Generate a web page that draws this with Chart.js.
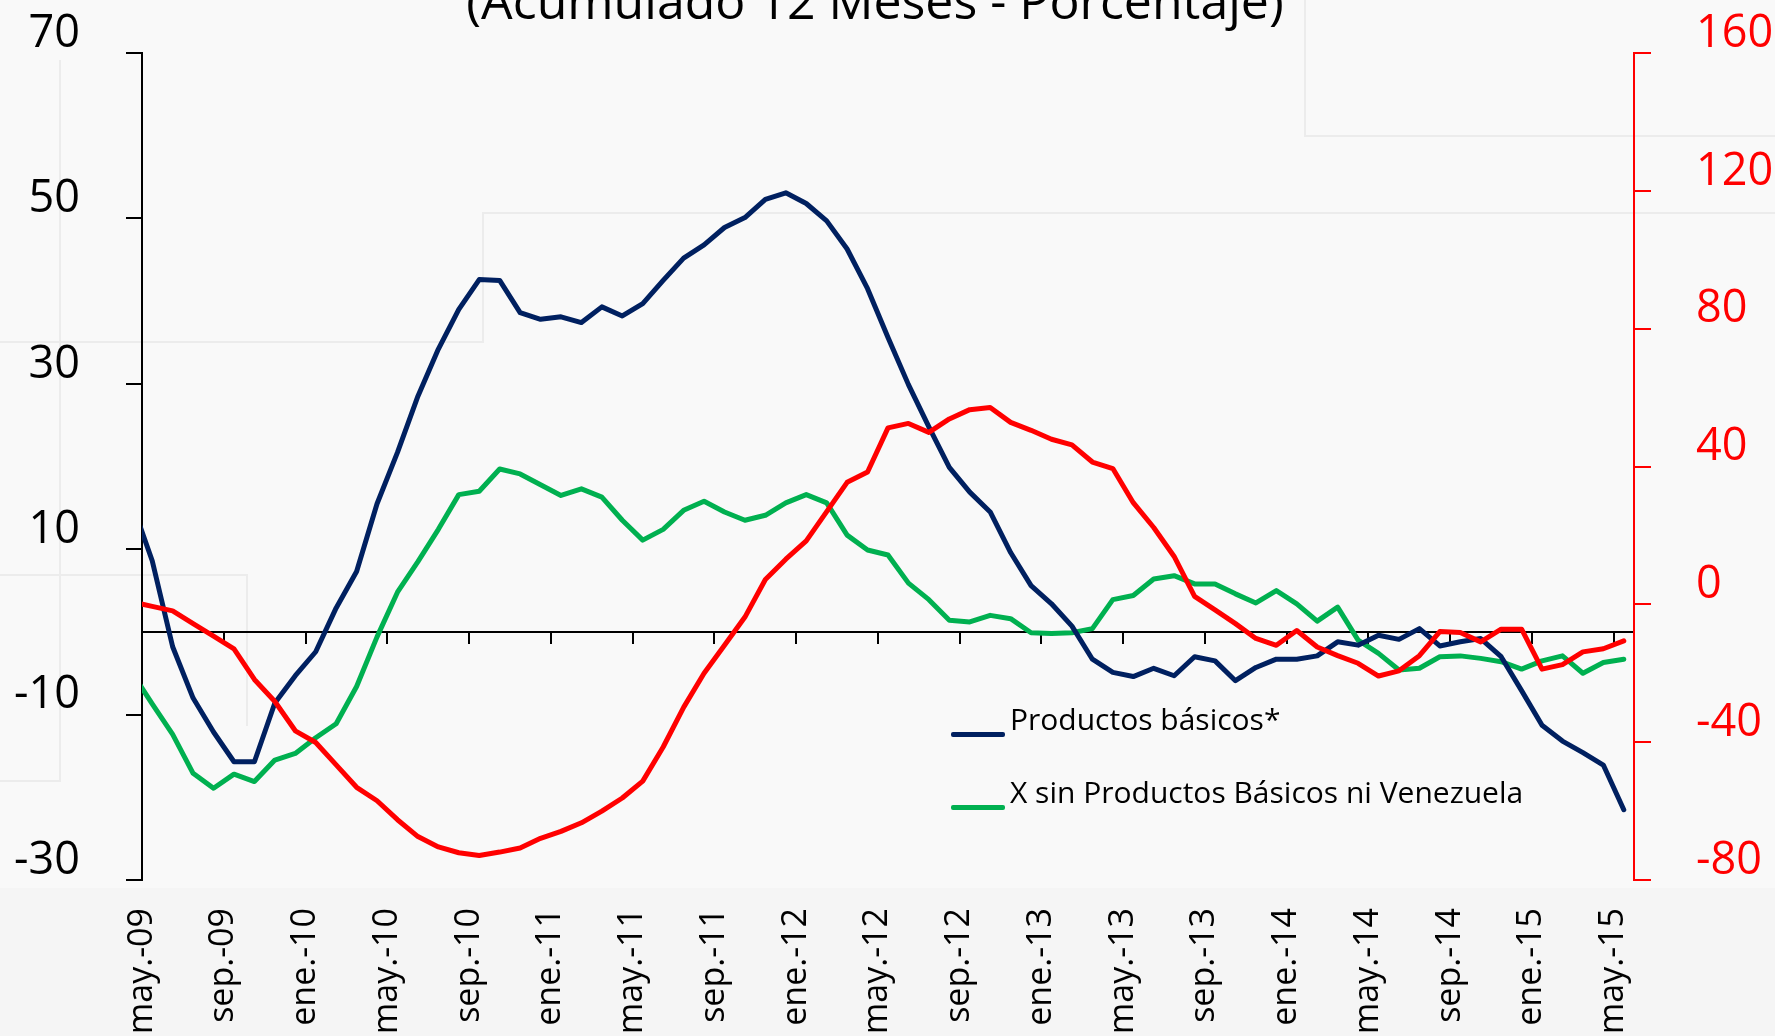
<!DOCTYPE html>
<html>
<head>
<meta charset="utf-8">
<title>Exportaciones</title>
<script src="https://cdn.jsdelivr.net/npm/chart.js@4.4.1/dist/chart.umd.min.js"></script>
<style>
  html, body { margin: 0; padding: 0; background: #f9f9f9; overflow: hidden; }
  #wrap { position: relative; width: 1775px; height: 1036px; }
  #chart { position: absolute; left: 0; top: 0; }
  .ghost { position: absolute; background: #ececec; }
  #bottomBand { position: absolute; left: 0; top: 888px; width: 1775px; height: 148px; background: #f5f5f5; }
  #title {
    position: absolute; left: 0; top: -25px; width: 1750px;
    text-align: center; white-space: nowrap;
    font-family: "Open Sans", sans-serif; font-size: 50px; line-height: 50px; color: #000;
  }
  .legend-item {
    position: absolute; left: 951px; height: 30px;
    font-family: "Open Sans", sans-serif; font-size: 30px; line-height: 30px; color: #000;
    white-space: nowrap;
  }
  .legend-item .swatch {
    position: absolute; left: 0; width: 54px; height: 5px; border-radius: 2px;
  }
  .legend-item .text { position: absolute; left: 59px; top: 0; }
</style>
</head>
<body>
<div id="wrap">
  <!-- faint outlines of the slide behind the chart -->
  <div id="bottomBand"></div>
  <div class="ghost" style="left:0;top:341px;width:484px;height:2px"></div>
  <div class="ghost" style="left:482px;top:212px;width:2px;height:131px"></div>
  <div class="ghost" style="left:482px;top:212px;width:1293px;height:2px"></div>
  <div class="ghost" style="left:1304px;top:0;width:2px;height:137px"></div>
  <div class="ghost" style="left:1304px;top:135px;width:471px;height:2px"></div>
  <div class="ghost" style="left:59px;top:60px;width:2px;height:722px"></div>
  <div class="ghost" style="left:0;top:780px;width:61px;height:2px"></div>
  <div class="ghost" style="left:0;top:574px;width:248px;height:2px"></div>
  <div class="ghost" style="left:246px;top:574px;width:2px;height:152px"></div>
  <canvas id="chart" width="1775" height="1036"></canvas>
  <div id="title">(Acumulado 12 Meses - Porcentaje)</div>
  <div id="legend"></div>
</div>
<script>
// months, abr.-09 to may.-15 (first one sits just left of the axis)
const months = [
  "abr.-09", "may.-09", "jun.-09", "jul.-09", "ago.-09", "sep.-09", "oct.-09", "nov.-09", "dic.-09",
  "ene.-10", "feb.-10", "mar.-10", "abr.-10", "may.-10", "jun.-10", "jul.-10", "ago.-10", "sep.-10", "oct.-10", "nov.-10", "dic.-10",
  "ene.-11", "feb.-11", "mar.-11", "abr.-11", "may.-11", "jun.-11", "jul.-11", "ago.-11", "sep.-11", "oct.-11", "nov.-11", "dic.-11",
  "ene.-12", "feb.-12", "mar.-12", "abr.-12", "may.-12", "jun.-12", "jul.-12", "ago.-12", "sep.-12", "oct.-12", "nov.-12", "dic.-12",
  "ene.-13", "feb.-13", "mar.-13", "abr.-13", "may.-13", "jun.-13", "jul.-13", "ago.-13", "sep.-13", "oct.-13", "nov.-13", "dic.-13",
  "ene.-14", "feb.-14", "mar.-14", "abr.-14", "may.-14", "jun.-14", "jul.-14", "ago.-14", "sep.-14", "oct.-14", "nov.-14", "dic.-14",
  "ene.-15", "feb.-15", "mar.-15", "abr.-15", "may.-15"
];

const tickLabels = [
  "may.-09", "sep.-09", "ene.-10", "may.-10", "sep.-10", "ene.-11", "may.-11",
  "sep.-11", "ene.-12", "may.-12", "sep.-12", "ene.-13", "may.-13", "sep.-13",
  "ene.-14", "may.-14", "sep.-14", "ene.-15", "may.-15"
];

// Productos básicos* (left axis)
const basicos = [
  15.6, 8.6, -1.8, -8.0, -12.1, -15.7, -15.7, -8.6, -5.3, -2.4, 2.9, 7.3, 15.5, 21.7,
  28.5, 34.2, 39.0, 42.6, 42.5, 38.6, 37.8, 38.1, 37.4, 39.3, 38.2, 39.7, 42.5, 45.2,
  46.8, 48.9, 50.1, 52.3, 53.1, 51.8, 49.7, 46.3, 41.5, 35.6, 29.9, 24.8, 19.9, 16.9,
  14.5, 9.6, 5.6, 3.4, 0.7, -3.3, -4.9, -5.4, -4.4, -5.3, -3.0, -3.5, -5.9, -4.3,
  -3.3, -3.3, -2.9, -1.2, -1.6, -0.4, -0.9, 0.4, -1.7, -1.2, -0.8, -3.0, -7.1, -11.3,
  -13.2, -14.6, -16.1, -21.5
];

// X sin Productos Básicos ni Venezuela (left axis)
const sinBasicos = [
  -4.9, -8.7, -12.4, -17.1, -18.9, -17.2, -18.1, -15.5, -14.7, -12.8, -11.1, -6.6, -0.6, 4.8,
  8.5, 12.4, 16.6, 17.0, 19.7, 19.1, 17.8, 16.5, 17.3, 16.3, 13.5, 11.1, 12.4, 14.7,
  15.8, 14.5, 13.5, 14.1, 15.6, 16.6, 15.6, 11.7, 9.9, 9.3, 5.9, 3.9, 1.4, 1.2,
  2.0, 1.6, -0.1, -0.2, -0.1, 0.4, 3.9, 4.4, 6.4, 6.8, 5.8, 5.8, 4.6, 3.5,
  5.0, 3.4, 1.3, 3.0, -1.0, -2.6, -4.6, -4.4, -3.0, -2.9, -3.2, -3.6, -4.5, -3.5,
  -2.9, -5.0, -3.7, -3.3
];

// Venezuela (right axis)
const venezuela = [
  0.7, -0.6, -1.9, -5.6, -9.2, -12.9, -21.8, -28.2, -36.7, -40.1, -46.6, -53.1, -57.0, -62.5,
  -67.4, -70.4, -72.1, -72.9, -71.9, -70.7, -67.9, -65.9, -63.4, -60.0, -56.2, -51.3, -41.4, -29.9,
  -20.0, -11.9, -3.7, 7.2, 13.1, 18.4, 26.9, 35.4, 38.4, 51.2, 52.5, 49.9, 53.8, 56.5,
  57.1, 52.8, 50.5, 47.9, 46.3, 41.3, 39.4, 29.5, 22.3, 13.9, 2.3, -1.6, -5.6, -9.9,
  -11.9, -7.6, -12.4, -14.9, -17.1, -20.8, -19.3, -14.9, -7.9, -8.2, -10.9, -7.2, -7.2, -18.8,
  -17.5, -13.8, -12.9, -10.6
];

const leftTicks = [-30, -10, 10, 30, 50, 70];
const rightTicks = [-80, -40, 0, 40, 80, 120, 160];

const FONT = "'Open Sans', 'Noto Sans', sans-serif";

// each month is drawn half a step after its tick (the first one gets clipped)
const toPoints = (values) => values.map((v, i) => ({ x: i - 0.5, y: v }));

const xTicksFromLabels = (scale) => {
  scale.ticks = tickLabels.map((_, i) => ({ value: i * 4 }));
};

// y axes: fixed width, and don't let the label padding push the plot down
const fixYAxis = (width) => (scale) => {
  scale.width = width;
  scale.paddingTop = 0;
  scale.paddingBottom = 0;
};

const ctx = document.getElementById("chart");

const chart = new Chart(ctx, {
  type: "line",
  data: {
    datasets: [
      {
        label: "Venezuela",
        data: toPoints(venezuela),
        borderColor: "#ff0000",
        yAxisID: "yRight",
        order: 0,
        inLegend: false
      },
      {
        label: "Productos básicos*",
        data: toPoints(basicos),
        borderColor: "#002060",
        yAxisID: "y",
        order: 1,
        inLegend: true
      },
      {
        label: "X sin Productos Básicos ni Venezuela",
        data: toPoints(sinBasicos),
        borderColor: "#00b050",
        yAxisID: "y",
        order: 2,
        inLegend: true
      }
    ]
  },
  options: {
    responsive: false,
    animation: false,
    devicePixelRatio: 1,
    layout: { padding: { top: 53, left: 0, right: 0, bottom: 0 } },
    elements: {
      line: { borderWidth: 5, tension: 0, borderCapStyle: "round", borderJoinStyle: "round" },
      point: { radius: 0, hoverRadius: 0 }
    },
    datasets: {
      line: { clip: { left: 0, top: 10, right: 10, bottom: 10 } }
    },
    plugins: {
      legend: { display: false },
      tooltip: { enabled: false },
      title: { display: false }
    },
    scales: {
      x: {
        type: "linear",
        position: "bottom",
        min: 0,
        max: 73,
        afterBuildTicks: xTicksFromLabels,
        afterFit: (scale) => { scale.height = 156; },
        grid: { display: false, drawTicks: false },
        border: { display: false },
        ticks: {
          autoSkip: false,
          minRotation: 90,
          maxRotation: 90,
          padding: 28,
          color: "#000",
          font: { family: FONT, size: 34 },
          callback: (value) => tickLabels[Math.round(value / 4)]
        }
      },
      xZero: {
        type: "linear",
        position: { y: 0 },
        min: 0,
        max: 73,
        afterBuildTicks: xTicksFromLabels,
        afterFit: (scale) => { scale.height = 0; },
        grid: { drawOnChartArea: false, drawTicks: true, tickLength: 11, color: "#000", lineWidth: 2 },
        border: { display: true, color: "#000", width: 2 },
        ticks: { display: false }
      },
      y: {
        position: "left",
        min: -30,
        max: 70,
        afterBuildTicks: (scale) => { scale.ticks = leftTicks.map((v) => ({ value: v })); },
        afterFit: fixYAxis(142),
        grid: { drawOnChartArea: false, tickLength: 16, color: "#000", lineWidth: 2 },
        border: { color: "#000", width: 2 },
        ticks: {
          padding: 46,
          labelOffset: -19,
          color: "#000",
          font: { family: FONT, size: 45 }
        }
      },
      yRight: {
        position: "right",
        min: -80,
        max: 160,
        afterBuildTicks: (scale) => { scale.ticks = rightTicks.map((v) => ({ value: v })); },
        afterFit: fixYAxis(141),
        grid: { drawOnChartArea: false, tickLength: 17, color: "#ff0000", lineWidth: 2 },
        border: { color: "#ff0000", width: 2 },
        ticks: {
          padding: 45,
          labelOffset: -19,
          color: "#ff0000",
          font: { family: FONT, size: 45 }
        }
      }
    }
  }
});

// legend lives inside the plot, built from the datasets
const legendBox = document.getElementById("legend");
const legendTops = [704, 777];
chart.data.datasets.filter((d) => d.inLegend).forEach((d, i) => {
  const item = document.createElement("div");
  item.className = "legend-item";
  item.style.top = legendTops[i] + "px";
  const swatch = document.createElement("span");
  swatch.className = "swatch";
  swatch.style.background = d.borderColor;
  swatch.style.top = "28px";
  const text = document.createElement("span");
  text.className = "text";
  text.textContent = d.label;
  item.appendChild(swatch);
  item.appendChild(text);
  legendBox.appendChild(item);
});
</script>
</body>
</html>
